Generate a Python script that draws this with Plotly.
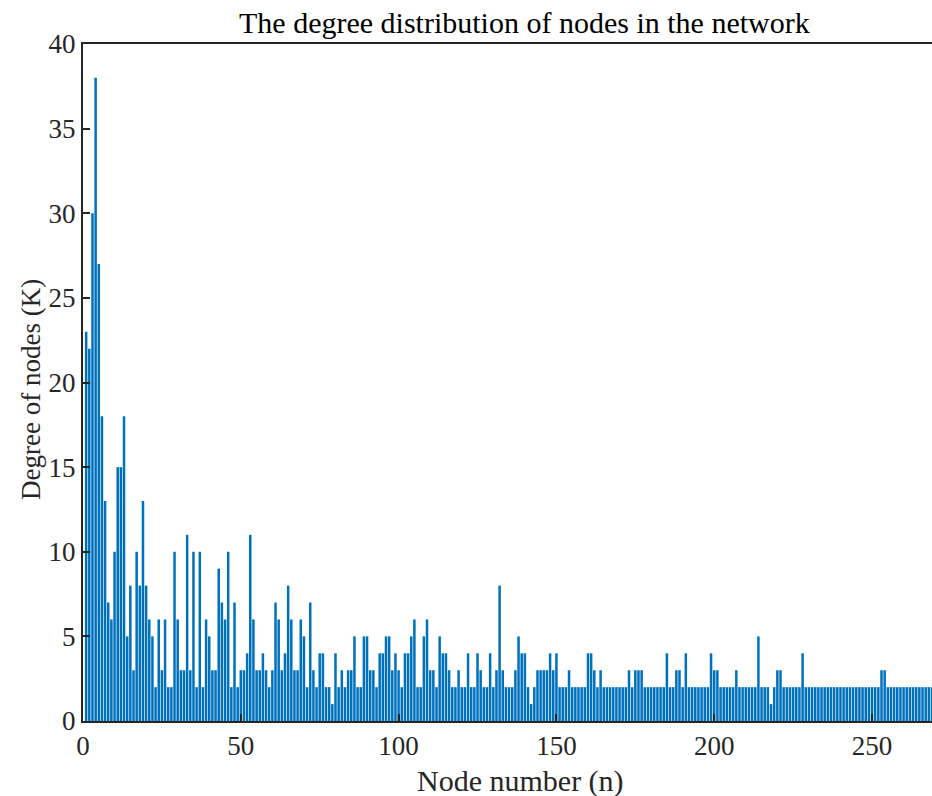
import plotly.graph_objects as go

# Degree of each node, node 1 first
degrees = [
    23, 22, 30, 38, 27, 18, 13, 7, 6, 10,
    15, 15, 18, 5, 8, 3, 10, 8, 13, 8,
    6, 5, 2, 6, 3, 6, 2, 2, 10, 6,
    3, 3, 11, 3, 10, 2, 10, 2, 6, 5,
    3, 3, 9, 7, 6, 10, 2, 7, 2, 3,
    3, 4, 11, 6, 3, 3, 4, 3, 2, 3,
    7, 6, 3, 4, 8, 6, 3, 3, 6, 5,
    2, 7, 3, 2, 4, 4, 2, 2, 1, 4,
    2, 3, 2, 3, 3, 5, 2, 2, 5, 5,
    3, 3, 2, 4, 4, 5, 5, 3, 4, 3,
    2, 4, 4, 5, 6, 2, 2, 5, 6, 3,
    3, 2, 5, 4, 4, 3, 2, 2, 3, 2,
    2, 4, 2, 2, 4, 3, 2, 2, 4, 2,
    3, 8, 3, 2, 2, 2, 3, 5, 4, 4,
    2, 1, 2, 3, 3, 3, 3, 4, 3, 4,
    2, 2, 2, 3, 2, 2, 2, 2, 2, 4,
    4, 3, 2, 3, 2, 2, 2, 2, 2, 2,
    2, 2, 3, 2, 3, 3, 3, 2, 2, 2,
    2, 2, 2, 2, 4, 2, 2, 3, 3, 2,
    4, 2, 2, 2, 2, 2, 2, 2, 4, 3,
    3, 2, 2, 2, 2, 2, 3, 2, 2, 2,
    2, 2, 2, 5, 2, 2, 2, 1, 2, 3,
    3, 2, 2, 2, 2, 2, 2, 4, 2, 2,
    2, 2, 2, 2, 2, 2, 2, 2, 2, 2,
    2, 2, 2, 2, 2, 2, 2, 2, 2, 2,
    2, 2, 3, 3, 2, 2, 2, 2, 2, 2,
    2, 2, 2, 2, 2, 2, 2, 2, 2,
]
nodes = list(range(1, len(degrees) + 1))

x_ticks = [0, 50, 100, 150, 200, 250]
y_ticks = [0, 5, 10, 15, 20, 25, 30, 35, 40]

title_text = "The degree distribution of nodes in the network"
x_label = "Node number (n)"
y_label = "Degree of nodes (K)"

FONT = "Liberation Serif, Times New Roman, serif"
INK = "#262626"

fig = go.Figure(
    go.Bar(
        x=nodes,
        y=degrees,
        width=0.8,
        marker=dict(color="#0072BD", line=dict(width=0)),
    )
)

fig.update_layout(
    width=932,
    height=796,
    margin=dict(l=83, r=0, t=44, b=75),
    paper_bgcolor="white",
    plot_bgcolor="white",
    showlegend=False,
    font=dict(family=FONT, color=INK),
    annotations=[
        dict(text=title_text, xref="paper", yref="paper",
             x=0.52, y=1.0, yshift=22, xanchor="center", yanchor="middle",
             showarrow=False, font=dict(size=30, family=FONT, color="black")),
        dict(text=x_label, xref="paper", yref="paper",
             x=0.515, y=0.0, yshift=-60, xanchor="center", yanchor="middle",
             showarrow=False, font=dict(size=30, family=FONT, color=INK)),
        dict(text=y_label, xref="paper", yref="paper",
             x=0.0, xshift=-52, y=0.489, xanchor="center", yanchor="middle",
             textangle=-90, showarrow=False,
             font=dict(size=27, family=FONT, color=INK)),
    ],
)

fig.update_xaxes(
    range=[0, 269],
    tickvals=x_ticks,
    ticks="inside",
    ticklen=7,
    tickwidth=1.5,
    tickcolor=INK,
    showline=True,
    linecolor=INK,
    linewidth=2,
    mirror=True,
    showgrid=False,
    zeroline=False,
    tickfont=dict(size=27, family=FONT, color=INK),
)
fig.update_yaxes(
    range=[0, 40],
    tickvals=y_ticks,
    ticks="inside",
    ticklen=7,
    tickwidth=1.5,
    tickcolor=INK,
    showline=True,
    linecolor=INK,
    linewidth=2,
    mirror=False,
    showgrid=False,
    zeroline=False,
    tickfont=dict(size=27, family=FONT, color=INK),
)

fig.write_html("out.html")
